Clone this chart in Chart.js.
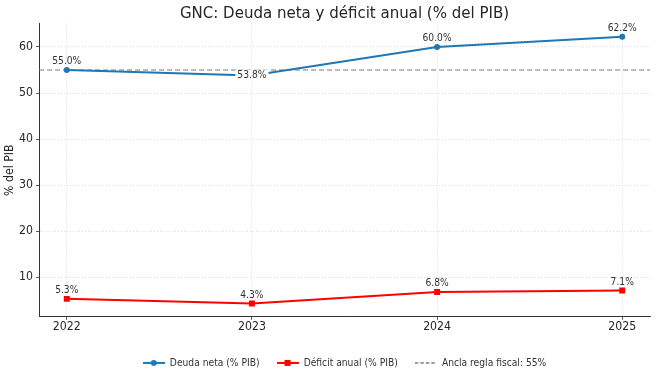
<!DOCTYPE html>
<html>
<head>
<meta charset="utf-8">
<script src="https://cdn.jsdelivr.net/npm/chart.js@4.4.1/dist/chart.umd.min.js"></script>
<style>
  html, body { margin: 0; padding: 0; background: #fff; }
  #wrap { width: 656px; height: 378px; }
</style>
</head>
<body>
<div id="wrap"><canvas id="chart"></canvas></div>
<script>
// ===== DATOS =====
const years = [2022, 2023, 2024, 2025];
const deudaNeta = [55.0, 53.8, 60.0, 62.2];
const deficitAnual = [5.3, 4.3, 6.8, 7.1];
const anclaFiscal = 55;
const xLimits = [2021.85, 2025.15];
const yLimits = [1.405, 65.095];
const yTicks = [10, 20, 30, 40, 50, 60];

const BLUE = '#1f77b4';
const RED = '#ff0000';
const GREY = '#7a7a7a';
const TEXT = '#262626';
const FONT = "'DejaVu Sans Condensed', 'DejaVu Sans', sans-serif";

// iconos de leyenda: línea + marcador, como en matplotlib
function legendIcon(color, marker, dashed) {
    const c = document.createElement('canvas');
    c.width = 22; c.height = 10;
    const ctx = c.getContext('2d');
    ctx.strokeStyle = color;
    ctx.lineWidth = dashed ? 1.3 : 2;
    if (dashed) ctx.setLineDash([3.5, 2]);
    ctx.beginPath(); ctx.moveTo(0, 5); ctx.lineTo(22, 5); ctx.stroke();
    ctx.setLineDash([]);
    ctx.fillStyle = color;
    if (marker === 'circle') {
        ctx.beginPath(); ctx.arc(11, 5, 3, 0, Math.PI * 2); ctx.fill();
    } else if (marker === 'rect') {
        ctx.fillRect(8, 2, 6, 6);
    }
    return c;
}

const toPoints = ys => ys.map((y, i) => ({ x: years[i], y }));

// etiquetas de valor sobre cada punto
const valueLabels = {
    id: 'valueLabels',
    afterDatasetsDraw(chart) {
        const ctx = chart.ctx;
        ctx.save();
        ctx.font = '10.2px ' + FONT;
        ctx.textAlign = 'center';
        ctx.textBaseline = 'middle';
        [0, 1].forEach(di => {
            const meta = chart.getDatasetMeta(di);
            const ds = chart.data.datasets[di];
            meta.data.forEach((pt, i) => {
                const txt = ds.data[i].y.toFixed(1) + '%';
                const boxed = ds.boxedIndex === i;
                const y = boxed ? pt.y : pt.y - 8.5;
                if (boxed) {
                    const w = ctx.measureText(txt).width + 4;
                    ctx.fillStyle = '#fff';
                    ctx.fillRect(pt.x - w / 2, y - 6, w, 12);
                }
                ctx.fillStyle = '#333';
                ctx.fillText(txt, pt.x, y);
            });
        });
        ctx.restore();
    }
};

// centrar título y leyenda sobre el área de trazado
const centerOnArea = {
    id: 'centerOnArea',
    afterLayout(chart) {
        const a = chart.chartArea;
        [chart.titleBlock, chart.legend].forEach(b => {
            if (b) { b.left = a.left; b.right = a.right; }
        });
    }
};

new Chart(document.getElementById('chart'), {
    type: 'line',
    data: {
        datasets: [
            {
                label: 'Deuda neta (% PIB)',
                data: toPoints(deudaNeta),
                borderColor: BLUE,
                backgroundColor: BLUE,
                borderWidth: 2,
                pointStyle: 'circle',
                pointRadius: 3,
                pointBorderWidth: 0,
                icon: legendIcon(BLUE, 'circle'),
                boxedIndex: 1,
                order: 1
            },
            {
                label: 'Déficit anual (% PIB)',
                data: toPoints(deficitAnual),
                borderColor: RED,
                backgroundColor: RED,
                borderWidth: 2,
                pointStyle: 'rect',
                pointRadius: 4.2,
                pointBorderWidth: 0,
                icon: legendIcon(RED, 'rect'),
                order: 2
            },
            {
                label: 'Ancla regla fiscal: 55%',
                data: xLimits.map(x => ({ x, y: anclaFiscal })),
                borderColor: GREY,
                borderWidth: 1.1,
                borderDash: [5, 3],
                pointRadius: 0,
                icon: legendIcon(GREY, null, true),
                order: 3
            }
        ]
    },
    options: {
        responsive: true,
        maintainAspectRatio: false,
        animation: false,
        layout: { padding: { top: 0, right: 6, bottom: 0, left: 0 } },
        plugins: {
            title: {
                display: true,
                text: 'GNC: Deuda neta y déficit anual (% del PIB)',
                color: TEXT,
                font: { family: FONT, size: 16.7, weight: 'normal' },
                padding: { top: 3.5, bottom: 0 }
            },
            legend: {
                position: 'bottom',
                labels: {
                    color: '#333',
                    font: { family: FONT, size: 10.2 },
                    usePointStyle: true,
                    pointStyleWidth: 22,
                    padding: 17,
                    generateLabels(chart) {
                        return chart.data.datasets.map((ds, i) => ({
                            text: ds.label,
                            pointStyle: ds.icon,
                            fontColor: '#333',
                            datasetIndex: i,
                            lineWidth: 0
                        }));
                    }
                }
            },
            tooltip: { enabled: false }
        },
        scales: {
            x: {
                type: 'linear',
                min: xLimits[0],
                max: xLimits[1],
                afterFit: s => { s.height = 24; },
                afterBuildTicks: s => { s.ticks = years.map(v => ({ value: v })); },
                ticks: {
                    color: TEXT,
                    font: { family: FONT, size: 12.2 },
                    padding: 0,
                    maxRotation: 0,
                    callback: v => String(v)
                },
                grid: {
                    color: '#d4d4d4',
                    tickColor: '#333',
                    tickLength: 3,
                    tickBorderDash: [],
                    lineWidth: 0.8
                },
                border: { color: '#333', width: 1, dash: [1, 2] }
            },
            y: {
                type: 'linear',
                min: yLimits[0],
                max: yLimits[1],
                afterFit: s => { s.width = 39; },
                afterBuildTicks: s => { s.ticks = yTicks.map(v => ({ value: v })); },
                ticks: {
                    color: TEXT,
                    font: { family: FONT, size: 12.2 },
                    padding: 3,
                    callback: v => String(v)
                },
                grid: {
                    color: '#d4d4d4',
                    tickColor: '#333',
                    tickLength: 3,
                    tickBorderDash: [],
                    lineWidth: 0.8
                },
                border: { color: '#333', width: 1, dash: [1, 2] },
                title: {
                    display: true,
                    text: '% del PIB',
                    color: TEXT,
                    font: { family: FONT, size: 12.2 },
                    padding: { top: 2.5, bottom: 0 }
                }
            }
        }
    },
    plugins: [valueLabels, centerOnArea]
});
</script>
</body>
</html>
